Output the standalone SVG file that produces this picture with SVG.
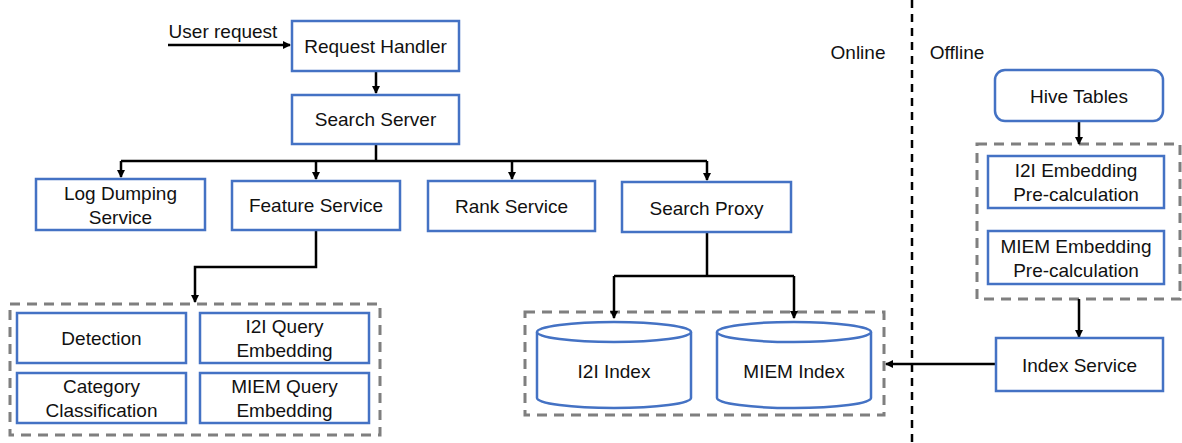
<svg xmlns="http://www.w3.org/2000/svg" width="1182" height="443" viewBox="0 0 1182 443">
<style>
.n{fill:#fff;stroke:#4472C4;stroke-width:2.5}
.g{fill:none;stroke:#7F7F7F;stroke-width:3;stroke-dasharray:10,7}
.c{fill:none;stroke:#000;stroke-width:2.5}
.t{font-family:"Liberation Sans",Arial,sans-serif;font-size:19px;fill:#111;text-anchor:middle;dominant-baseline:central}
</style>
<defs>
<marker id="a" markerWidth="8" markerHeight="8" refX="7" refY="4" orient="auto" markerUnits="userSpaceOnUse">
<path d="M0,0 L8,4 L0,8 Z" fill="#000"/>
</marker>
</defs>
<rect width="1182" height="443" fill="#fff"/>
<line x1="912" y1="0" x2="912" y2="443" stroke="#000" stroke-width="2.5" stroke-dasharray="8,6"/>
<text class="t" x="858" y="52">Online</text>
<text class="t" x="957" y="52">Offline</text>
<text class="t" x="223" y="31">User request</text>
<g id="groups">
<rect class="g" x="10" y="304" width="370" height="131"/>
<rect class="g" x="525" y="312" width="359" height="103"/>
<rect class="g" x="977" y="144" width="203" height="155"/>
</g>
<g id="connectors">
<path class="c" d="M168,45 H290" marker-end="url(#a)"/>
<path class="c" d="M376,71 V93" marker-end="url(#a)"/>
<path class="c" d="M376,144 V161 M121,161 H707"/>
<path class="c" d="M121,161 V177" marker-end="url(#a)"/>
<path class="c" d="M316,161 V179" marker-end="url(#a)"/>
<path class="c" d="M512,161 V179" marker-end="url(#a)"/>
<path class="c" d="M707,161 V180" marker-end="url(#a)"/>
<path class="c" d="M316,230 V267 H195 V302" marker-end="url(#a)"/>
<path class="c" d="M707,232 V276 M614,276 H794"/>
<path class="c" d="M614,276 V318" marker-end="url(#a)"/>
<path class="c" d="M794,276 V318" marker-end="url(#a)"/>
<path class="c" d="M1079,121 V144" marker-end="url(#a)"/>
<path class="c" d="M1079,299 V337" marker-end="url(#a)"/>
<path class="c" d="M996,364 H886" marker-end="url(#a)"/>
</g>
<g id="request-handler"><rect class="n" x="292" y="21" width="167" height="50"/><text class="t" x="375.5" y="46">Request Handler</text></g>
<g id="search-server"><rect class="n" x="292" y="95" width="167" height="49"/><text class="t" x="375.5" y="119.5">Search Server</text></g>
<g id="log-dumping"><rect class="n" x="36" y="179" width="169" height="51"/><text class="t" x="120.5" y="193">Log Dumping</text><text class="t" x="120.5" y="217">Service</text></g>
<g id="feature-service"><rect class="n" x="232" y="181" width="168" height="49"/><text class="t" x="316" y="205.5">Feature Service</text></g>
<g id="rank-service"><rect class="n" x="428" y="181" width="167" height="50"/><text class="t" x="511.5" y="206">Rank Service</text></g>
<g id="search-proxy"><rect class="n" x="622" y="182" width="169" height="50"/><text class="t" x="706.5" y="208">Search Proxy</text></g>
<g id="detection"><rect class="n" x="17" y="313" width="169" height="50"/><text class="t" x="101.5" y="338">Detection</text></g>
<g id="i2i-query"><rect class="n" x="200" y="313" width="169" height="50"/><text class="t" x="284.5" y="326">I2I Query</text><text class="t" x="284.5" y="350">Embedding</text></g>
<g id="category"><rect class="n" x="17" y="373" width="169" height="50"/><text class="t" x="101.5" y="386">Category</text><text class="t" x="101.5" y="410">Classification</text></g>
<g id="miem-query"><rect class="n" x="200" y="373" width="169" height="50"/><text class="t" x="284.5" y="386">MIEM Query</text><text class="t" x="284.5" y="410">Embedding</text></g>
<g id="i2i-index"><path class="n" d="M537,332 V398 A77,10 0 0 0 691,398 V332 A77,10 0 0 0 537,332 Z"/><path class="n" fill="none" d="M537,332 A77,10 0 0 0 691,332"/><text class="t" x="614" y="371">I2I Index</text></g>
<g id="miem-index"><path class="n" d="M717,332 V398 A77,10 0 0 0 871,398 V332 A77,10 0 0 0 717,332 Z"/><path class="n" fill="none" d="M717,332 A77,10 0 0 0 871,332"/><text class="t" x="794" y="371">MIEM Index</text></g>
<g id="hive-tables"><rect class="n" x="995" y="70" width="168" height="51" rx="10"/><text class="t" x="1079" y="96">Hive Tables</text></g>
<g id="i2i-embedding"><rect class="n" x="988" y="156" width="176" height="52"/><text class="t" x="1076" y="170">I2I Embedding</text><text class="t" x="1076" y="194">Pre-calculation</text></g>
<g id="miem-embedding"><rect class="n" x="988" y="231" width="176" height="53"/><text class="t" x="1076" y="246">MIEM Embedding</text><text class="t" x="1076" y="270">Pre-calculation</text></g>
<g id="index-service"><rect class="n" x="996" y="338" width="167" height="53"/><text class="t" x="1079.5" y="365">Index Service</text></g>
</svg>
